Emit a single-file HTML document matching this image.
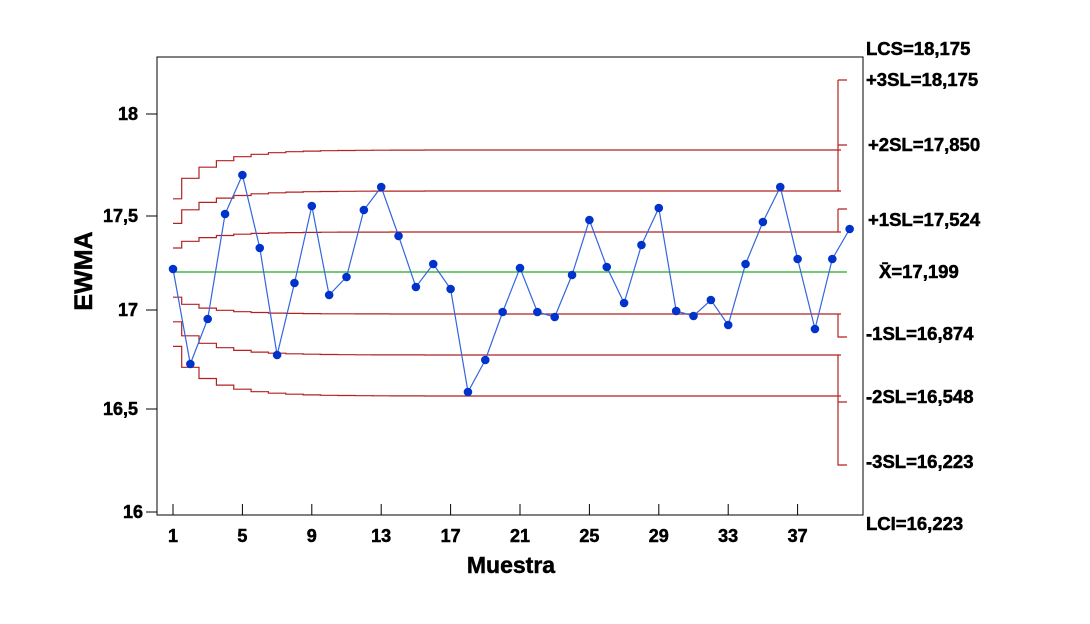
<!DOCTYPE html>
<html><head><meta charset="utf-8"><style>
html,body{margin:0;padding:0;background:#fff;}
svg{display:block;font-family:"Liberation Sans",Arial,sans-serif;font-weight:bold;}
.t{stroke:#000;stroke-width:0.5;}
</style></head><body>
<svg id="s" width="1090" height="624" xmlns="http://www.w3.org/2000/svg">
<rect x="157" y="57" width="706" height="458" fill="none" stroke="#000" stroke-width="1"/>
<g stroke="#000" stroke-width="1">
<line x1="146" y1="114" x2="157" y2="114"/><line x1="146" y1="216" x2="157" y2="216"/>
<line x1="146" y1="310" x2="157" y2="310"/><line x1="146" y1="409" x2="157" y2="409"/>
<line x1="146" y1="512" x2="157" y2="512"/>
</g>
<g font-size="18" text-anchor="end" fill="#000" class="t">
<text x="138" y="120">18</text><text x="138" y="222">17,5</text><text x="138" y="316">17</text>
<text x="138" y="415">16,5</text><text x="143" y="518">16</text>
</g>
<text class="t" x="0" y="0" font-size="25" text-anchor="middle" transform="translate(92,271) rotate(-90)">EWMA</text>
<text class="t" x="511" y="573" font-size="23" text-anchor="middle">Muestra</text>
<g id="xt"></g>
<g id="lim" fill="none" stroke="#b22222" stroke-width="1.2"></g>
<line x1="173" y1="272" x2="847" y2="272" stroke="#22aa22" stroke-width="1.3"/>
<g id="ser"></g>
<g font-size="18.5" fill="#000" class="t">
<text x="866" y="55">LCS=18,175</text>
<text x="866" y="86">+3SL=18,175</text>
<text x="868" y="151">+2SL=17,850</text>
<text x="868" y="226">+1SL=17,524</text>
<text x="879" y="278">X̄=17,199</text>
<text x="866" y="340">-1SL=16,874</text>
<text x="866" y="403">-2SL=16,548</text>
<text x="866" y="468">-3SL=16,223</text>
<text x="866" y="530">LCI=16,223</text>
</g>
</svg>
<script>
var NS="http://www.w3.org/2000/svg";
function el(p,t,a,txt){var e=document.createElementNS(NS,t);for(var k in a)e.setAttribute(k,a[k]);if(txt!==undefined)e.textContent=txt;document.getElementById(p).appendChild(e);return e;}
var X=function(i){return 173+17.35*(i-1);};
[1,5,9,13,17,21,25,29,33,37].forEach(function(i){
 el('xt','line',{x1:X(i),y1:504,x2:X(i),y2:515,stroke:'#000'});
 el('xt','text',{x:X(i),y:542,'font-size':18,'text-anchor':'middle','class':'t'},String(i));
});
var L=0.2,c=272;
[-122,-81,-40,42,83,124].forEach(function(w){
 var d='';
 for(var i=1;i<=40;i++){
  var f=Math.sqrt((1-Math.pow(1-L,2*i))/(1-Math.pow(1-L,200)));
  var y=c+w*f;
  var x0=i==1?173:X(i)-8.7, x1=i==40?838:X(i)+8.7;
  d+=(i==1?'M':'L')+x0.toFixed(1)+' '+y.toFixed(1)+' L'+x1.toFixed(1)+' '+y.toFixed(1)+' ';
 }
 el('lim','path',{d:d});
});
el('lim','path',{d:'M838 80 L838 191 M838 80 L847 80 M838 145 L847 145'});
el('lim','path',{d:'M838 209 L838 232 M838 209 L847 209'});
el('lim','path',{d:'M838 314 L838 337 L847 337'});
el('lim','path',{d:'M838 355 L838 465 L847 465 M838 402 L847 402'});
var ys=[269,364,319,214,175,248,355,283,206,295,277,210,187,236,287,264,289,392,360,312,268,312,317,275,220,267,303,245,208,311,316,300,325,264,222,187,259,329,259,229];
var pts=ys.map(function(y,i){return X(i+1).toFixed(1)+','+y;}).join(' ');
el('ser','polyline',{points:pts,fill:'none',stroke:'#3366dd','stroke-width':1.2});
ys.forEach(function(y,i){el('ser','circle',{cx:X(i+1),cy:y,r:4.3,fill:'#0033cc'});});
</script>
</body></html>
